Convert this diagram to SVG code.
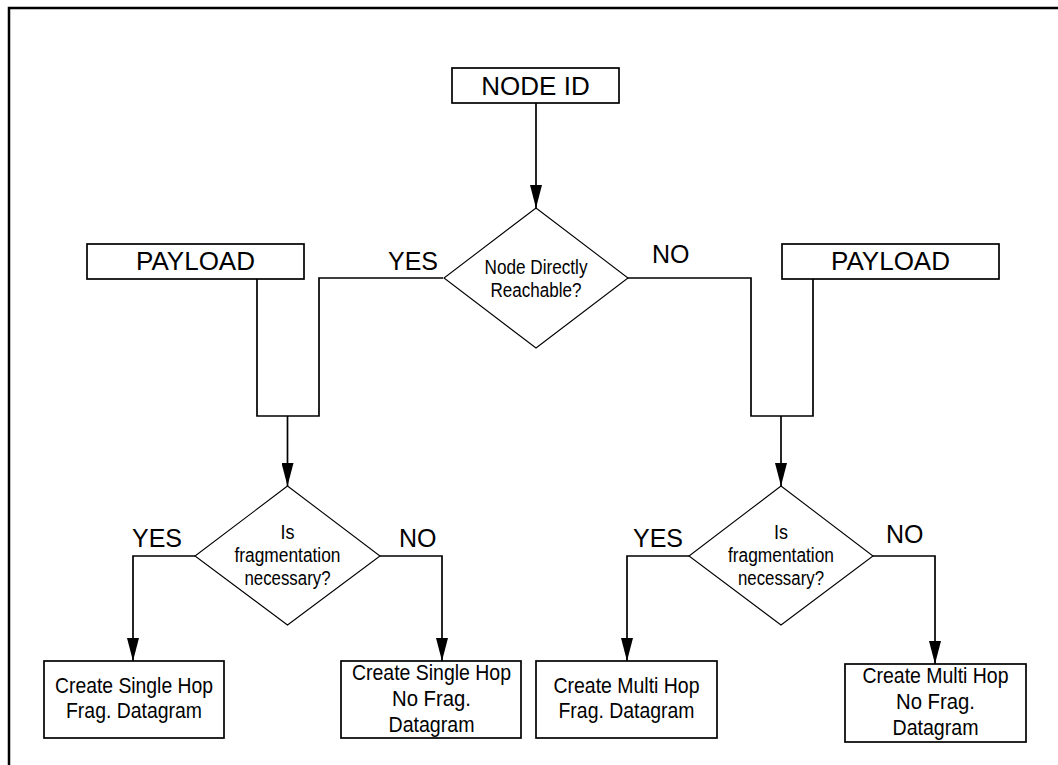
<svg xmlns="http://www.w3.org/2000/svg" width="1058" height="765" viewBox="0 0 1058 765">
  <style>
    .frame { fill: none; stroke: #000; stroke-width: 2.5; }
    .box { fill: #fff; stroke: #000; stroke-width: 1.7; }
    .dia { fill: #fff; stroke: #000; stroke-width: 1.1; }
    .wire { fill: none; stroke: #000; stroke-width: 1.7; }
    .big { font-family: "Liberation Sans", Arial, sans-serif; font-size: 25px; fill: #000; }
    .head { font-family: "Liberation Sans", Arial, sans-serif; font-size: 26px; fill: #000; text-anchor: middle; }
    .small { font-family: "Liberation Sans", Arial, sans-serif; font-size: 20px; fill: #000; text-anchor: middle; }
    .body { font-family: "Liberation Sans", Arial, sans-serif; font-size: 22px; fill: #000; text-anchor: middle; }
  </style>
  <defs>
    <marker id="arrow" markerUnits="userSpaceOnUse" markerWidth="24" markerHeight="12" refX="23" refY="6" orient="auto">
      <path d="M0,0 L23,6 L0,12 Z" fill="#000"/>
    </marker>
  </defs>

  <rect width="1058" height="765" fill="#fff"/>
  <path class="frame" d="M9,766 V8 H1060"/>

  <!-- connectors -->
  <g id="connectors">
    <path class="wire" d="M536,103 V208" marker-end="url(#arrow)"/>
    <path class="wire" d="M257,279 V416 H319 V278 H443"/>
    <path class="wire" d="M287.5,416 V486" marker-end="url(#arrow)"/>
    <path class="wire" d="M813,279 V416 H751 V278 H627"/>
    <path class="wire" d="M781,416 V486" marker-end="url(#arrow)"/>
    <path class="wire" d="M195,556 H133 V661" marker-end="url(#arrow)"/>
    <path class="wire" d="M380,556 H442 V661" marker-end="url(#arrow)"/>
    <path class="wire" d="M689,556 H627 V661" marker-end="url(#arrow)"/>
    <path class="wire" d="M873,556 H935 V664" marker-end="url(#arrow)"/>
  </g>

  <!-- branch labels -->
  <g id="labels">
    <text class="big" x="388" y="270">YES</text>
    <text class="big" x="652" y="263">NO</text>
    <text class="big" x="132" y="547">YES</text>
    <text class="big" x="399" y="547">NO</text>
    <text class="big" x="633" y="547">YES</text>
    <text class="big" x="886" y="543">NO</text>
  </g>

  <g id="node-id">
    <rect class="box" x="452" y="68" width="167" height="35"/>
    <text class="head" x="535.5" y="95">NODE ID</text>
  </g>

  <g id="payload-left">
    <rect class="box" x="87" y="244" width="217" height="35"/>
    <text class="head" x="195.5" y="270">PAYLOAD</text>
  </g>

  <g id="payload-right">
    <rect class="box" x="782" y="244" width="217" height="35"/>
    <text class="head" x="890.5" y="270">PAYLOAD</text>
  </g>

  <g id="reachable">
    <polygon class="dia" points="536,208 628,278 536,348 444,278"/>
    <text class="small" x="536" y="274" textLength="103" lengthAdjust="spacingAndGlyphs">Node Directly</text>
    <text class="small" x="536" y="297" textLength="91" lengthAdjust="spacingAndGlyphs">Reachable?</text>
  </g>

  <g id="frag-single">
    <polygon class="dia" points="287.5,486 380,556 287.5,625 195,556"/>
    <text class="small" x="287.5" y="539" textLength="14" lengthAdjust="spacingAndGlyphs">Is</text>
    <text class="small" x="287.5" y="562" textLength="106" lengthAdjust="spacingAndGlyphs">fragmentation</text>
    <text class="small" x="287.5" y="585" textLength="86" lengthAdjust="spacingAndGlyphs">necessary?</text>
  </g>

  <g id="frag-multi">
    <polygon class="dia" points="781,486 873,556 781,625 689,556"/>
    <text class="small" x="781" y="539" textLength="14" lengthAdjust="spacingAndGlyphs">Is</text>
    <text class="small" x="781" y="562" textLength="106" lengthAdjust="spacingAndGlyphs">fragmentation</text>
    <text class="small" x="781" y="585" textLength="86" lengthAdjust="spacingAndGlyphs">necessary?</text>
  </g>

  <g id="single-hop-frag">
    <rect class="box" x="44" y="661" width="180" height="77"/>
    <text class="body" x="134" y="693" textLength="158" lengthAdjust="spacingAndGlyphs">Create Single Hop</text>
    <text class="body" x="134" y="718" textLength="136" lengthAdjust="spacingAndGlyphs">Frag. Datagram</text>
  </g>

  <g id="single-hop-nofrag">
    <rect class="box" x="341" y="661" width="180" height="77"/>
    <text class="body" x="431.5" y="680" textLength="159" lengthAdjust="spacingAndGlyphs">Create Single Hop</text>
    <text class="body" x="431.5" y="706" textLength="79" lengthAdjust="spacingAndGlyphs">No Frag.</text>
    <text class="body" x="431.5" y="732" textLength="86" lengthAdjust="spacingAndGlyphs">Datagram</text>
  </g>

  <g id="multi-hop-frag">
    <rect class="box" x="536" y="661" width="181" height="77"/>
    <text class="body" x="626.5" y="693" textLength="146" lengthAdjust="spacingAndGlyphs">Create Multi Hop</text>
    <text class="body" x="626.5" y="718" textLength="136" lengthAdjust="spacingAndGlyphs">Frag. Datagram</text>
  </g>

  <g id="multi-hop-nofrag">
    <rect class="box" x="845" y="664" width="181" height="78"/>
    <text class="body" x="935.5" y="683" textLength="146" lengthAdjust="spacingAndGlyphs">Create Multi Hop</text>
    <text class="body" x="935.5" y="709" textLength="79" lengthAdjust="spacingAndGlyphs">No Frag.</text>
    <text class="body" x="935.5" y="735" textLength="86" lengthAdjust="spacingAndGlyphs">Datagram</text>
  </g>
</svg>
